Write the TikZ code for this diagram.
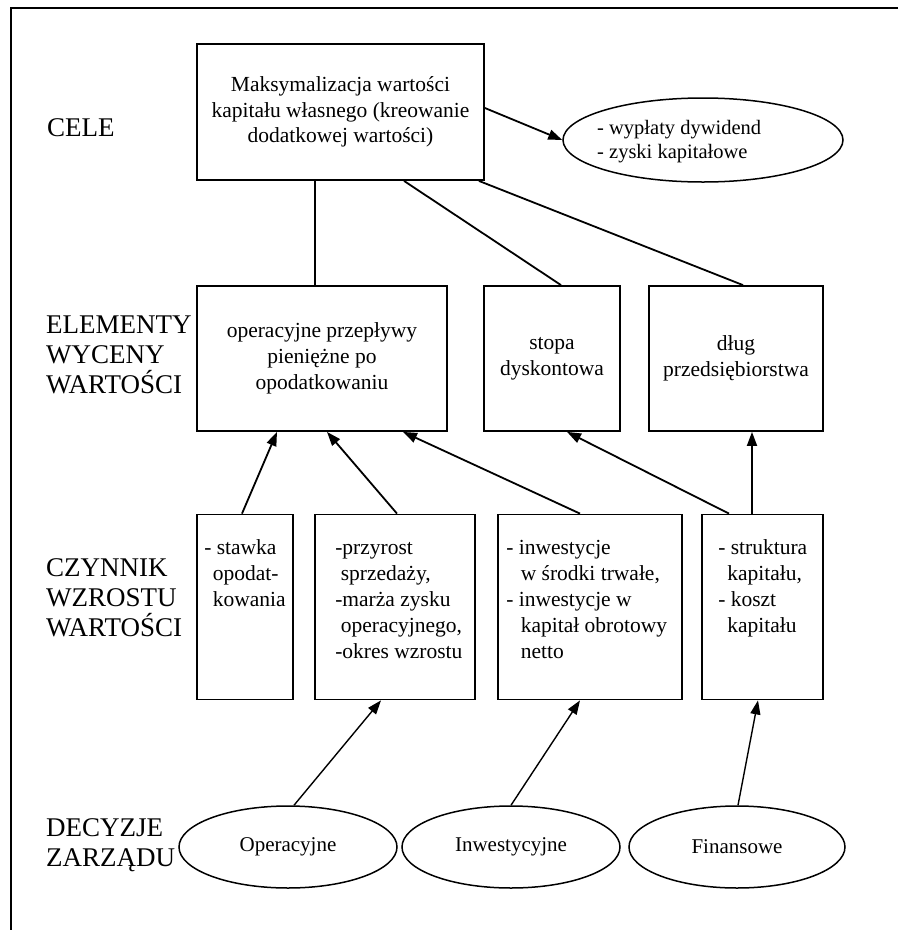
\documentclass[tikz,border=0pt]{standalone}
\usepackage{fontspec}
\setmainfont{Liberation Serif}
\usetikzlibrary{arrows.meta,shapes.geometric}
\begin{document}
\begin{tikzpicture}[x=1pt,y=-1pt,
  box/.style={draw,line width=1.8pt,rectangle,inner sep=0pt,align=center,
    font=\fontsize{21.5}{26}\selectfont},
  oval/.style={draw,line width=1.5pt,ellipse,inner sep=0pt,align=center,
    font=\fontsize{21}{26}\selectfont},
  note/.style={inner sep=0pt,anchor=north west,align=left,
    font=\fontsize{21.5}{26}\selectfont},
  level/.style={inner sep=0pt,anchor=west,align=left,
    font=\fontsize{27}{30}\selectfont},
  link/.style={line width=1.8pt},
  arr/.style={line width=1.8pt,-{Triangle[length=14pt,width=10pt]}},
  thinarr/.style={line width=1.4pt,-{Triangle[length=14pt,width=10pt]}}]

\useasboundingbox (0,0) rectangle (898,930);

% open frame
\draw[line width=2pt] (898,8) -- (11,8) -- (11,930);

% level labels
\node[level] (lcele) at (47,128) {CELE};
\node[level] (lelem) at (46,355) {ELEMENTY\\WYCENY\\WARTOŚCI};
\node[level] (lczyn) at (46,598) {CZYNNIK\\WZROSTU\\WARTOŚCI};
\node[level] (ldec)  at (46,845) {DECYZJE\\ZARZĄDU};

% goal
\node[box,minimum width=287pt,minimum height=136pt,font=\fontsize{21.5}{25.5}\selectfont]
  (top) at (340.5,112)
  {Maksymalizacja wartości\\kapitału własnego (kreowanie\\dodatkowej wartości)};
\node[oval,minimum width=280pt,minimum height=84pt] (goal) at (703,140) {};
\node[note,anchor=west,font=\fontsize{20.5}{24}\selectfont] (goaltext) at (597,142)
  {- wypłaty dywidend\\- zyski kapitałowe};

% valuation elements
\node[box,minimum width=250pt,minimum height=145pt] (m1) at (322,358.5)
  {operacyjne przepływy\\pieniężne po\\opodatkowaniu};
\node[box,minimum width=136pt,minimum height=145pt] (m2) at (552,358.5)
  {stopa\\dyskontowa};
\node[box,minimum width=174pt,minimum height=145pt] (m3) at (736,358.5)
  {dług\\przedsiębiorstwa};

% value drivers
\node[box,minimum width=96pt,minimum height=185pt]  (b1) at (245,607) {};
\node[box,minimum width=160pt,minimum height=185pt] (b2) at (395,607) {};
\node[box,minimum width=184pt,minimum height=185pt] (b3) at (590,607) {};
\node[box,minimum width=121pt,minimum height=185pt] (b4) at (762.5,607) {};

\node[note] (t1) at ([xshift=8pt,yshift=-25pt]b1.north west)
  {\rule{0pt}{15.5pt}- stawka\\\hspace*{8.5pt}opodat-\\\hspace*{8.5pt}kowania};
\node[note] (t2) at ([xshift=21pt,yshift=-25pt]b2.north west)
  {\rule{0pt}{15.5pt}-przyrost\\\hspace*{5.5pt}sprzedaży,\\-marża zysku\\\hspace*{5.5pt}operacyjnego,\\-okres wzrostu};
\node[note] (t3) at ([xshift=9pt,yshift=-25pt]b3.north west)
  {\rule{0pt}{15.5pt}- inwestycje\\\hspace*{14.5pt}w środki trwałe,\\- inwestycje w\\\hspace*{14.5pt}kapitał obrotowy\\\hspace*{14.5pt}netto};
\node[note] (t4) at ([xshift=17pt,yshift=-25pt]b4.north west)
  {\rule{0pt}{15.5pt}- struktura\\\hspace*{9pt}kapitału,\\- koszt\\\hspace*{9pt}kapitału};

% management decisions
\node[oval,minimum width=218pt,minimum height=82pt] (e1) at (288,847) {Operacyjne};
\node[oval,minimum width=218pt,minimum height=82pt] (e2) at (511,847) {Inwestycyjne};
\node[oval,minimum width=216pt,minimum height=82pt] (e3) at (737,847) {Finansowe};

% connectors from the goal
\draw[arr] ([yshift=4pt]top.east) -- (goal.west);
\draw[link] ([xshift=-25.5pt]top.south) -- ([xshift=-7pt]m1.north);
\draw[link] ([xshift=63.5pt]top.south) -- ([xshift=9pt]m2.north);
\draw[link] ([xshift=-6pt]top.south east) -- ([xshift=7pt]m3.north);

% drivers to valuation elements
\draw[arr] ([xshift=-3pt]b1.north) -- ([xshift=-45pt]m1.south);
\draw[arr] ([xshift=2pt]b2.north) -- ([xshift=5pt]m1.south);
\draw[arr] ([xshift=-10pt]b3.north) -- ([xshift=81pt]m1.south);
\draw[arr] ([xshift=-33.5pt]b4.north) -- ([xshift=15pt]m2.south);
\draw[arr] ([xshift=-10.5pt]b4.north) -- ([xshift=16pt]m3.south);

% decisions to drivers
\draw[thinarr] ([xshift=6pt]e1.north) -- ([xshift=-14pt]b2.south);
\draw[thinarr] ([xshift=0pt]e2.north) -- ([xshift=-10pt]b3.south);
\draw[thinarr] ([xshift=1pt]e3.north) -- ([xshift=-4.5pt]b4.south);
\end{tikzpicture}
\end{document}
